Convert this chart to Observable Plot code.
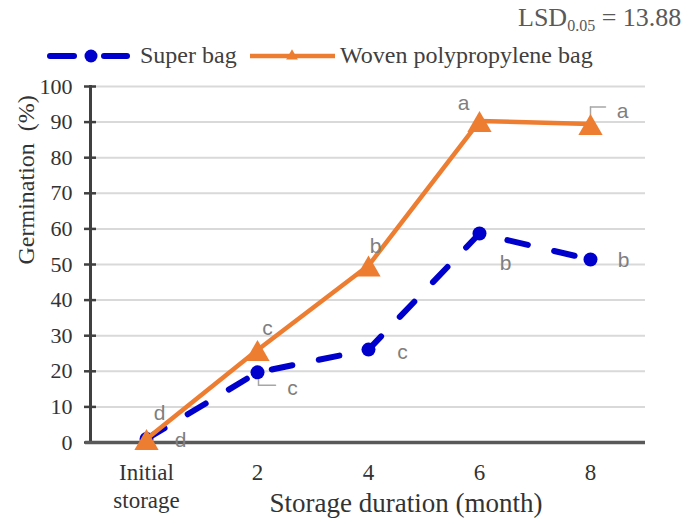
<!DOCTYPE html>
<html><head><meta charset="utf-8">
<script src="https://cdn.jsdelivr.net/npm/d3@7"></script>
<script src="https://cdn.jsdelivr.net/npm/@observablehq/plot@0.6"></script>
<style>
body{margin:0;background:#fff;}
#wrap{position:relative;width:695px;height:524px;overflow:hidden;}
#legend{position:absolute;left:0;top:0;font-family:'Liberation Serif','Times New Roman',serif;}
</style></head><body><div id="wrap"></div>
<script>
// ---- data ----
const durations = ["Initial\nstorage", "2", "4", "6", "8"];
const superBag = [1, 19.7, 26.1, 58.7, 51.4];
const wovenBag = [1, 26, 49.7, 90.3, 89.5];
const superLetters = ["d", "c", "c", "b", "b"];
const wovenLetters = ["d", "c", "b", "a", "a"];
const yTicks = [0, 10, 20, 30, 40, 50, 60, 70, 80, 90, 100];
const seriesNames = ["Super bag", "Woven polypropylene bag"];
const lsdValue = "13.88";

// ---- styling / layout (not data) ----
const BLUE = "#0000CC", ORANGE = "#ED7D31";
const SERIF = "'Liberation Serif','Times New Roman',serif";
const SANS = "'Liberation Sans',Arial,sans-serif";
const superOffsets = [[34, 1], [35, 16], [34, 3], [26, 30], [33, 1]];
const wovenOffsets = [[13, -26], [10, -22], [7, -19], [-16, -18], [32, -13]];

const superRows = durations.map((d, i) => ({x: d, y: superBag[i], s: seriesNames[0], t: superLetters[i]}));
const wovenRows = durations.map((d, i) => ({x: d, y: wovenBag[i], s: seriesNames[1], t: wovenLetters[i]}));

const stem = {draw(context, l) { context.moveTo(0, 0); context.lineTo(0, -l); }};

const letterMarks = [];
superRows.forEach((r, i) => letterMarks.push(Plot.text([r], {x: "x", y: "y", text: "t", dx: superOffsets[i][0], dy: superOffsets[i][1], fill: "#7f7f7f", fontSize: 21, fontFamily: SANS})));
wovenRows.forEach((r, i) => letterMarks.push(Plot.text([r], {x: "x", y: "y", text: "t", dx: wovenOffsets[i][0], dy: wovenOffsets[i][1], fill: "#7f7f7f", fontSize: 21, fontFamily: SANS})));

const chart = Plot.plot({
  width: 695, height: 524,
  marginLeft: 90, marginRight: 50, marginTop: 86, marginBottom: 82,
  style: {background: "#fff", overflow: "visible", fontFamily: SERIF},
  x: {type: "point", domain: durations, padding: 0.5, label: null},
  y: {domain: [0, 100], label: null},
  marks: [
    Plot.gridY(yTicks.filter(d => d > 0), {stroke: "#d9d9d9", strokeOpacity: 1, strokeWidth: 2}),
    Plot.axisX({tickSize: 0, tickPadding: 18, fontSize: 23, fontFamily: SERIF, fill: "#333", lineHeight: 1.2, label: null}),
    Plot.axisY({ticks: yTicks, tickSize: 0, tickPadding: 18, fontSize: 22, fontFamily: SERIF, fill: "#333", label: null}),
    Plot.axisY({ticks: yTicks, tickSize: 12, dx: 6, fill: "none", stroke: "#404040", strokeWidth: 2.5, label: null}),
    Plot.frame({anchor: "left", stroke: "#404040", strokeWidth: 3}),
    Plot.ruleY([0], {stroke: "#595959", strokeWidth: 3.5, insetLeft: -5}),
    Plot.text(["Germination  (%)"], {frameAnchor: "left", rotate: -90, dx: -64, fontSize: 24, fontFamily: SERIF, fill: "#333"}),
    Plot.text(["Storage duration (month)"], {frameAnchor: "bottom", dx: 38, dy: 69, fontSize: 27, fontFamily: SERIF, fill: "#333"}),
    // leader lines
    Plot.vector([superRows[1]], {x: "x", y: "y", length: 13, rotate: 180, anchor: "start", shape: stem, stroke: "#a6a6a6", strokeWidth: 1.5, dx: 1}),
    Plot.vector([superRows[1]], {x: "x", y: "y", length: 17, rotate: 90, anchor: "start", shape: stem, stroke: "#a6a6a6", strokeWidth: 1.5, dx: 1, dy: 13}),
    Plot.vector([wovenRows[4]], {x: "x", y: "y", length: 14, rotate: 0, anchor: "start", shape: stem, stroke: "#a6a6a6", strokeWidth: 1.5, dy: -3}),
    Plot.vector([wovenRows[4]], {x: "x", y: "y", length: 15, rotate: 90, anchor: "start", shape: stem, stroke: "#a6a6a6", strokeWidth: 1.5, dy: -17}),
    // series
    Plot.line(superRows, {x: "x", y: "y", stroke: BLUE, strokeWidth: 6, strokeDasharray: "21,27", strokeLinecap: "round"}),
    Plot.dot(superRows, {x: "x", y: "y", r: 7, fill: BLUE, symbol: "circle"}),
    Plot.line(wovenRows, {x: "x", y: "y", stroke: ORANGE, strokeWidth: 4.5}),
    Plot.dot(wovenRows, {x: "x", y: "y", r: 9, fill: ORANGE, symbol: "triangle", dy: 4}),
    ...letterMarks
  ]
});

const wrap = document.getElementById("wrap");
wrap.appendChild(chart);

// legend + LSD note (overlay in the top margin)
const leg = d3.select(wrap).append("svg").attr("id", "legend").attr("width", 695).attr("height", 80);
leg.append("text").attr("x", 518).attr("y", 26).attr("font-family", SERIF).attr("font-size", 26).attr("fill", "#595959")
  .call(t => {
    t.append("tspan").text("LSD");
    t.append("tspan").attr("font-size", 16).attr("dy", 5).text("0.05");
    t.append("tspan").attr("dy", -5).text(" = " + lsdValue);
  });
// Super bag swatch
leg.append("line").attr("x1", 50).attr("x2", 74).attr("y1", 56).attr("y2", 56).attr("stroke", BLUE).attr("stroke-width", 6).attr("stroke-linecap", "round");
leg.append("line").attr("x1", 104).attr("x2", 127).attr("y1", 56).attr("y2", 56).attr("stroke", BLUE).attr("stroke-width", 6).attr("stroke-linecap", "round");
leg.append("circle").attr("cx", 91).attr("cy", 56).attr("r", 6.5).attr("fill", BLUE);
leg.append("text").attr("x", 140).attr("y", 63).attr("font-family", SERIF).attr("font-size", 24).attr("fill", "#404040").text(seriesNames[0]);
// Woven swatch
leg.append("line").attr("x1", 250).attr("x2", 335).attr("y1", 56).attr("y2", 56).attr("stroke", ORANGE).attr("stroke-width", 4.5);
leg.append("path").attr("d", d3.symbol(d3.symbolTriangle, 60)()).attr("transform", "translate(292,56)").attr("fill", ORANGE);
leg.append("text").attr("x", 340).attr("y", 63).attr("font-family", SERIF).attr("font-size", 24).attr("fill", "#404040").text(seriesNames[1]);
</script>
</body></html>
